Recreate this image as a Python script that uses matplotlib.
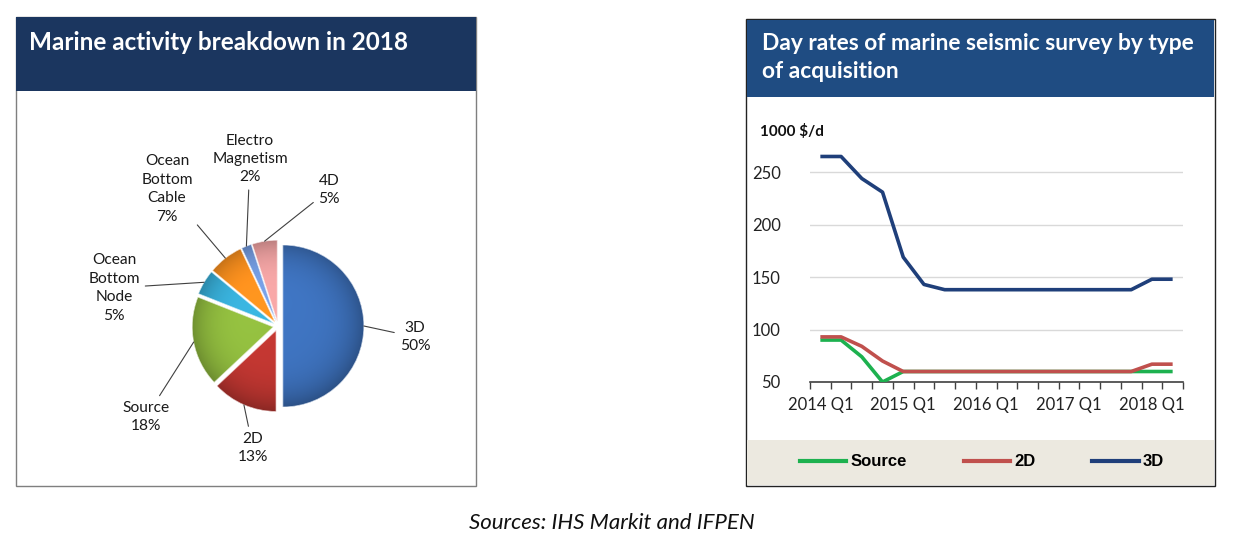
import numpy as np
import matplotlib
matplotlib.use("Agg")
import matplotlib.pyplot as plt
from matplotlib.patches import Rectangle, Wedge
from matplotlib.lines import Line2D
from matplotlib.colors import to_rgb

# === Data ===
pie_labels = ["3D", "2D", "Source", "Ocean\nBottom\nNode", "Ocean\nBottom\nCable",
              "Electro\nMagnetism", "4D"]
pie_shares = [50, 13, 18, 5, 7, 2, 5]
pie_colors = ["#3b6db5", "#b7342f", "#8ab33c", "#36a8d0", "#f08a1d", "#6f95d6", "#e59b9b"]

quarters = ["2014 Q1", "2014 Q2", "2014 Q3", "2014 Q4",
            "2015 Q1", "2015 Q2", "2015 Q3", "2015 Q4",
            "2016 Q1", "2016 Q2", "2016 Q3", "2016 Q4",
            "2017 Q1", "2017 Q2", "2017 Q3", "2017 Q4",
            "2018 Q1", "2018 Q2"]
rate_source = [90, 90, 74, 50, 60, 60, 60, 60, 60, 60, 60, 60, 60, 60, 60, 60, 60, 60]
rate_2d = [93, 93, 84, 70, 60, 60, 60, 60, 60, 60, 60, 60, 60, 60, 60, 60, 67, 67]
rate_3d = [265, 265, 244, 231, 169, 143, 138, 138, 138, 138, 138, 138, 138, 138, 138, 138, 148, 148]

# === Layout helpers (pixel coords, origin top-left) ===
W, H = 1237, 546
fig = plt.figure(figsize=(W / 100, H / 100), dpi=100)
fig.patch.set_facecolor("white")


def rect(x0, y0, x1, y1):
    return [x0 / W, 1 - y1 / H, (x1 - x0) / W, (y1 - y0) / H]


def fx(px):
    return px / W


def fy(py):
    return 1 - py / H


calibri = ["Lato", "DejaVu Sans"]

# === Panel frames and headers ===
fig.add_artist(Rectangle((fx(16), fy(486)), (476 - 16) / W, (486 - 17) / H,
                         transform=fig.transFigure, facecolor="white",
                         edgecolor="#7f7f7f", lw=1, zorder=0))
fig.add_artist(Rectangle((fx(16), fy(91)), (476 - 16) / W, (91 - 17) / H,
                         transform=fig.transFigure, facecolor="#1b365f",
                         edgecolor="none", zorder=1))
fig.text(fx(29), fy(42), "Marine activity breakdown in 2018", color="white",
         fontsize=17.5, fontweight="bold", family=calibri, va="center", ha="left")

fig.add_artist(Rectangle((fx(746), fy(486)), (1215 - 746) / W, (486 - 19) / H,
                         transform=fig.transFigure, facecolor="white",
                         edgecolor="#222222", lw=1, zorder=0))
fig.add_artist(Rectangle((fx(747), fy(97)), (1214 - 747) / W, (97 - 20) / H,
                         transform=fig.transFigure, facecolor="#1f4c82",
                         edgecolor="none", zorder=1))
fig.add_artist(Rectangle((fx(747), fy(485)), (1214 - 747) / W, (485 - 440) / H,
                         transform=fig.transFigure, facecolor="#ece9e0",
                         edgecolor="none", zorder=1))
fig.text(fx(762), fy(44), "Day rates of marine seismic survey by type", color="white",
         fontsize=16.4, fontweight="bold", family=calibri, va="center", ha="left")
fig.text(fx(762), fy(72), "of acquisition", color="white",
         fontsize=16.4, fontweight="bold", family=calibri, va="center", ha="left")

# === Pie chart ===
ax_pie = fig.add_axes(rect(17, 92, 475, 485))
cx, cy, R = 278, H - 326, 81
# explode is in data units here (pie is drawn in pixel units)
wedges, _ = ax_pie.pie(pie_shares, colors=pie_colors, startangle=90, counterclock=False,
                       explode=[0.06 * R] * len(pie_shares), center=(cx, cy), radius=R,
                       wedgeprops=dict(edgecolor="none"))
ax_pie.set_aspect("equal")
ax_pie.axis("off")

# soft bevel shading on each slice
gx, gy = np.meshgrid(np.linspace(-1.1, 1.1, 240), np.linspace(1.1, -1.1, 240))
dist = np.hypot(gx, gy)
shade = np.clip(1.08 - 0.30 * dist ** 4 + 0.03 * (gy - gx), 0.55, 1.15)
for w, c in zip(wedges, pie_colors):
    base = np.array(to_rgb(c))
    img = np.clip(base[None, None, :] * shade[:, :, None], 0, 1)
    wx, wy = w.center
    im = ax_pie.imshow(img, extent=(wx - 1.1 * R, wx + 1.1 * R, wy - 1.1 * R, wy + 1.1 * R),
                       zorder=w.get_zorder() + 0.1, interpolation="bilinear")
    im.set_clip_path(w)
    ax_pie.add_patch(Wedge(w.center, w.r, w.theta1, w.theta2, facecolor="none",
                           edgecolor="white", lw=0.6, alpha=0.7, zorder=w.get_zorder() + 0.2))
ax_pie.set_xlim(17, 475)
ax_pie.set_ylim(H - 485, H - 92)

# text centre positions (px) for each label
label_pos = [(415, 337), (253, 448), (146, 417), (114, 288), (167, 189), (250, 159), (329, 190)]
for w, lab, share, (lx, ly) in zip(wedges, pie_labels, pie_shares, label_pos):
    ang = np.deg2rad((w.theta1 + w.theta2) / 2)
    wx, wy = w.center
    ax_pie.annotate(f"{lab}\n{share}%", xy=(wx + R * np.cos(ang), wy + R * np.sin(ang)),
                    xytext=(lx, H - ly), ha="center", va="center", fontsize=11.2,
                    family=calibri, color="#1a1a1a", linespacing=1.4,
                    arrowprops=dict(arrowstyle="-", color="#404040", lw=0.8,
                                    shrinkA=2, shrinkB=0))

# === Line chart ===
ax = fig.add_axes(rect(810, 146, 1183, 382))
x = np.arange(len(quarters))
ax.plot(x, rate_source, color="#1db14f", lw=2.6, solid_capstyle="butt", zorder=3)
ax.plot(x, rate_2d, color="#c0504d", lw=2.6, solid_capstyle="butt", zorder=3)
ax.plot(x, rate_3d, color="#1f3f7a", lw=2.6, solid_capstyle="butt", zorder=4)
ax.set_xlim(-0.5, len(quarters) - 0.5)
ax.set_ylim(50, 275)
ax.set_yticks([50, 100, 150, 200, 250])
ax.yaxis.grid(True, color="#d9d9d9", lw=1)
ax.set_axisbelow(True)
for s in ["top", "right", "left"]:
    ax.spines[s].set_visible(False)
ax.spines["bottom"].set_color("#404040")
ax.spines["bottom"].set_linewidth(1.2)
ax.set_xticks(x[::4])
ax.set_xticklabels(quarters[::4])
ax.set_xticks(np.arange(-0.5, len(quarters)), minor=True)
ax.tick_params(axis="x", which="major", length=0, pad=11, labelsize=12, labelcolor="#222222")
ax.tick_params(axis="x", which="minor", length=5, width=1, color="#404040")
ax.tick_params(axis="y", length=0, pad=21, labelsize=12, labelcolor="#222222")
for t in ax.get_xticklabels() + ax.get_yticklabels():
    t.set_family(calibri)
fig.text(fx(760), fy(131), "1000 $/d", fontsize=11, fontweight="bold", family=calibri,
         va="center", ha="left", color="#111111")

# === Legend ===
handles = [Line2D([], [], color="#1db14f", lw=3),
           Line2D([], [], color="#c0504d", lw=3),
           Line2D([], [], color="#1f3f7a", lw=3)]
fig.legend(handles, ["Source", "2D", "3D"], loc="center", bbox_to_anchor=(fx(982), fy(462)),
           ncol=3, frameon=False, handlelength=2.8, handletextpad=0.25, columnspacing=3.4,
           prop=dict(family=["Liberation Sans", "DejaVu Sans"], weight="bold", size=12))

# === Source note ===
fig.text(fx(612), fy(523), "Sources: IHS Markit and IFPEN", fontsize=16, style="italic",
         family=calibri, ha="center", va="center", color="#111111")

fig.savefig("out.png", dpi=100)
